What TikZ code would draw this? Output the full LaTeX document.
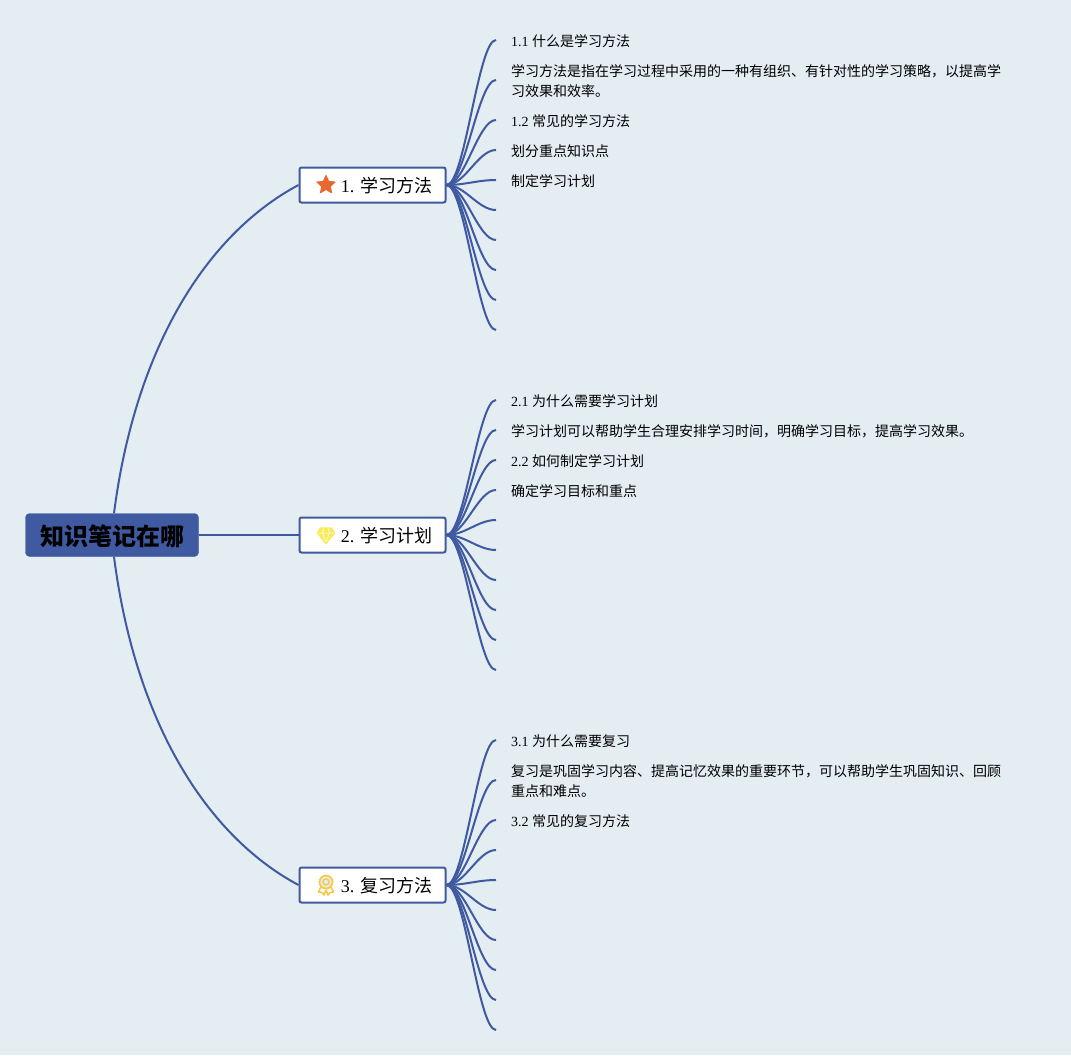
\documentclass[tikz,border=0pt]{standalone}
\usepackage{fontspec}
\setmainfont{Liberation Serif}
\newfontfamily\cjk{Noto Sans CJK SC}
\usetikzlibrary{positioning,shapes.geometric}

\definecolor{paper}{HTML}{E4EDF2}
\definecolor{line}{HTML}{3F5AA0}
\definecolor{staring}{HTML}{E8682F}
\definecolor{gem}{HTML}{F8EC5A}
\definecolor{medal}{HTML}{F6C94A}

\newcommand{\lowered}[1]{\raisebox{-1pt}[\height][\depth]{#1}}

\tikzset{
  root/.style={fill=line, draw=line, rounded corners=4pt, minimum width=173pt, minimum height=43pt, inner sep=0pt, font=\fontsize{24}{24}\selectfont\cjk\bfseries},
  branch/.style={fill=white, draw=line, line width=2pt, rounded corners=2pt, minimum width=146pt, minimum height=35pt, inner sep=0pt, font=\fontsize{18}{18}\selectfont},
  leaf/.style={yshift=-1pt, inner sep=0pt, align=left, font=\fontsize{14}{20}\selectfont},
  link/.style={draw=line, line width=2pt},
}

\begin{document}
\begin{tikzpicture}[x=1pt, y=-1pt]
\useasboundingbox[fill=paper] (0,0) rectangle (1071,1055);

% root and branches
\node[root]   (center) at (112,535)   {\lowered{知识笔记在哪}};
\node[branch] (learn)  at (372.5,185) {\lowered{\hspace{28pt}1. {\cjk 学习方法}}};
\node[branch] (plan)   at (372.5,535) {\lowered{\hspace{28pt}2. {\cjk 学习计划}}};
\node[branch] (review) at (372.5,885) {\lowered{\hspace{28pt}3. {\cjk 复习方法}}};

% main connectors
\draw[link] (center.north) ++(2,0) .. controls (135,350) and (205,235) .. (learn.west);
\draw[link] (center.east) -- (plan.west);
\draw[link] (center.south) ++(2,0) .. controls (135,720) and (205,835) .. (review.west);

% free ends of the thin branches
\foreach \y [count=\i] in {40,80,120,150,180,210,240,270,300,330} {
  \coordinate (a\i) at (496,\y);
  \draw[link] (learn.east) .. controls (465,185) and (478,\y) .. (a\i);
}
\foreach \y [count=\i] in {400,430,460,490,520,550,580,610,640,670} {
  \coordinate (b\i) at (496,\y);
  \draw[link] (plan.east) .. controls (465,535) and (478,\y) .. (b\i);
}
\foreach \y [count=\i] in {740,780,820,850,880,910,940,970,1000,1030} {
  \coordinate (c\i) at (496,\y);
  \draw[link] (review.east) .. controls (465,885) and (478,\y) .. (c\i);
}

% leaf texts
\node[leaf, right=15pt of a1] (t11) {1.1 {\cjk 什么是学习方法}};
\node[leaf, right=15pt of a2] (t12) {\cjk 学习方法是指在学习过程中采用的一种有组织、有针对性的学习策略，以提高学\\\cjk 习效果和效率。};
\node[leaf, right=15pt of a3] (t13) {1.2 {\cjk 常见的学习方法}};
\node[leaf, right=15pt of a4] (t14) {\cjk 划分重点知识点};
\node[leaf, right=15pt of a5] (t15) {\cjk 制定学习计划};

\node[leaf, right=15pt of b1] (t21) {2.1 {\cjk 为什么需要学习计划}};
\node[leaf, right=15pt of b2] (t22) {\cjk 学习计划可以帮助学生合理安排学习时间，明确学习目标，提高学习效果。};
\node[leaf, right=15pt of b3] (t23) {2.2 {\cjk 如何制定学习计划}};
\node[leaf, right=15pt of b4] (t24) {\cjk 确定学习目标和重点};

\node[leaf, right=15pt of c1] (t31) {3.1 {\cjk 为什么需要复习}};
\node[leaf, right=15pt of c2] (t32) {\cjk 复习是巩固学习内容、提高记忆效果的重要环节，可以帮助学生巩固知识、回顾\\\cjk 重点和难点。};
\node[leaf, right=15pt of c3] (t33) {3.2 {\cjk 常见的复习方法}};

% icons
\node[star, star points=5, star point ratio=2.1, fill=staring, draw=staring, line width=1pt, line join=round, minimum size=19pt, inner sep=0pt] (staricon) at (326,185) {};

\fill[gem, draw=gem, line width=1.5pt, line join=round] (320.5,528) -- (331.5,528) -- (334.5,533) -- (326,543.5) -- (317.5,533) -- cycle;
\draw[white, line width=0.5pt] (318,533) -- (334,533) (322.5,533) -- (326,542) -- (329.5,533) (322.5,533) -- (324,528.5) (329.5,533) -- (328,528.5);

\draw[medal, line width=1.6pt, line join=round] (321,887) -- (318.5,892) -- (322,892.5) -- (324,895) -- (326,890) -- (328,895) -- (330,892.5) -- (333.5,892) -- (331,887);
\draw[medal, line width=1.8pt, fill=paper] (326,882) circle (6.5pt);
\draw[medal, line width=1.5pt] (326,882) circle (3pt);
\end{tikzpicture}
\end{document}
